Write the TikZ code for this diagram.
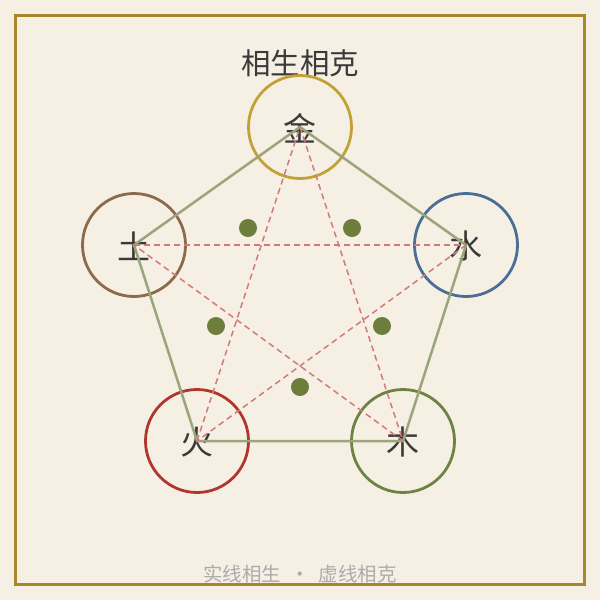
\documentclass[tikz,border=0pt]{standalone}
\usepackage{fontspec}
\newfontfamily\cjk{Noto Sans CJK SC}
\definecolor{bgc}{HTML}{F6F0E4}
\definecolor{framec}{HTML}{A8862A}
\definecolor{jinc}{HTML}{C2A236}
\definecolor{shuic}{HTML}{4A6E94}
\definecolor{muc}{HTML}{6E8243}
\definecolor{huoc}{HTML}{B0362E}
\definecolor{tuc}{HTML}{8D6A4B}
\definecolor{shengc}{HTML}{9BA57B}
\definecolor{kec}{HTML}{D07B7B}
\definecolor{dotc}{HTML}{6C7D3C}
\definecolor{titlec}{HTML}{3A3A3A}
\definecolor{notec}{HTML}{ABABAB}
\tikzset{
  elem/.style={circle, draw=#1, line width=2.8pt, minimum size=103pt, inner sep=0pt},
  elemtxt/.style={font=\cjk\fontsize{33}{33}\selectfont, text=titlec, inner sep=0pt},
  sheng/.style={draw=shengc, line width=2.5pt},
  ke/.style={draw=kec, line width=1.5pt, dash pattern=on 6pt off 4pt},
  dotmark/.style={circle, fill=dotc, minimum size=18pt, inner sep=0pt},
}
\begin{document}
\begin{tikzpicture}[x=1pt,y=-1pt]
\useasboundingbox (0,0) rectangle (600,600);
\fill[bgc] (0,0) rectangle (600,600);
\draw[framec, line width=2.6pt] (15.5,15.5) rectangle (584.5,584.5);
\node[font=\cjk\fontsize{29.5}{29.5}\selectfont, text=titlec] (title) at (300,63) {相生相克};
% element circles
\node[elem=jinc] (jinC) at (300,127) {};
\node[elem=shuic] (shuiC) at (466,245) {};
\node[elem=muc] (muC) at (403,441) {};
\node[elem=huoc] (huoC) at (197,441) {};
\node[elem=tuc] (tuC) at (134,245) {};
% labels
\node[elemtxt] (jinT) at (300,128) {金};
\node[elemtxt] (shuiT) at (466,246) {水};
\node[elemtxt] (muT) at (403,442) {木};
\node[elemtxt] (huoT) at (197,442) {火};
\node[elemtxt] (tuT) at (134,246) {土};
% vertices
\coordinate (jin) at (300,127);
\coordinate (shui) at (466,245);
\coordinate (mu) at (403,441);
\coordinate (huo) at (197,441);
\coordinate (tu) at (134,245);
% sheng cycle
\draw[sheng] (jin) -- (shui) -- (mu) -- (huo) -- (tu) -- cycle;
% ke lines
\draw[ke] (jin) -- (mu);
\draw[ke] (mu) -- (tu);
\draw[ke] (tu) -- (shui);
\draw[ke] (shui) -- (huo);
\draw[ke] (huo) -- (jin);
% dots
\node[dotmark] (d1) at (248,228) {};
\node[dotmark] (d2) at (352,228) {};
\node[dotmark] (d3) at (382,326) {};
\node[dotmark] (d4) at (300,387) {};
\node[dotmark] (d5) at (216,326) {};
% note
\node[font=\cjk\fontsize{19.5}{19.5}\selectfont, text=notec] (note) at (300,574) {实线相生\hspace{0.45em}·\hspace{0.45em}虚线相克};
\end{tikzpicture}
\end{document}
